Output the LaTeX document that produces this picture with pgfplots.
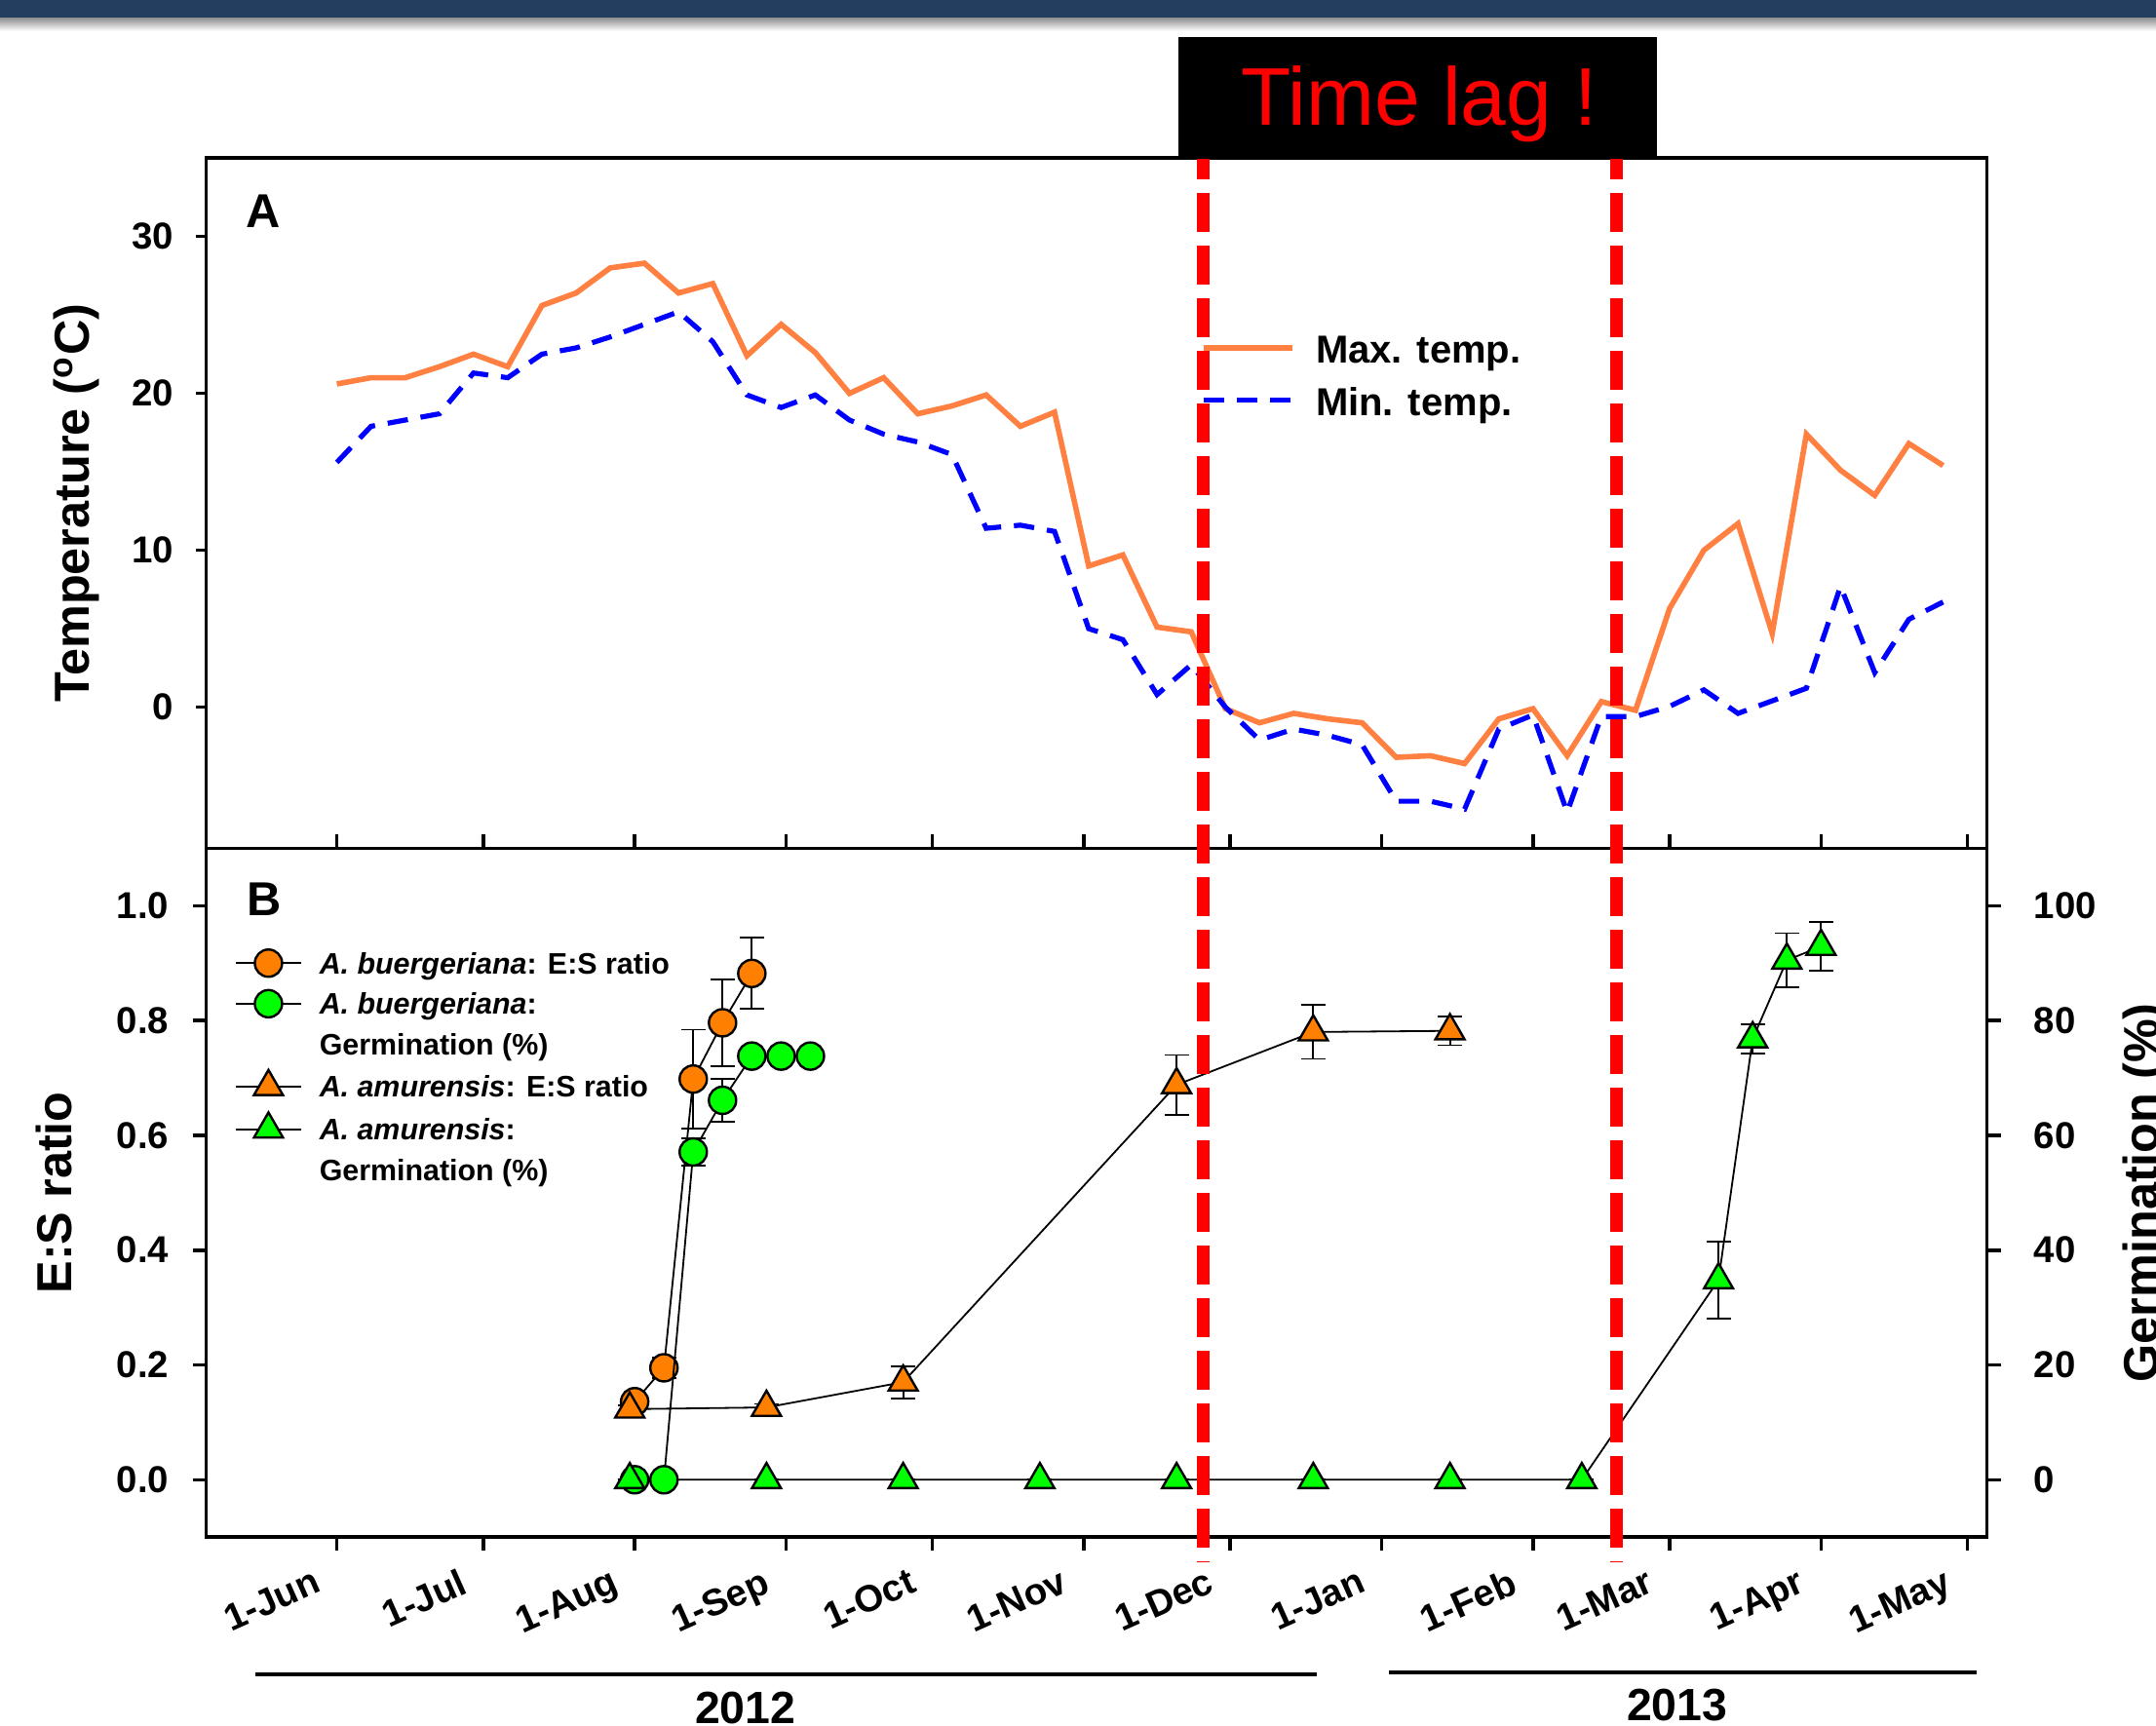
\documentclass[border=0pt]{standalone}
\usepackage{fontspec}
\setmainfont{Liberation Sans}
\usepackage{pgfplots}
\usepackage{pgfplotstable}
\pgfplotsset{compat=1.18}

\definecolor{hdr}{HTML}{243E5F}
\definecolor{maxc}{HTML}{FF8040}
\definecolor{minc}{HTML}{0000FF}
\definecolor{mko}{HTML}{FF8000}
\definecolor{mkg}{HTML}{00FF00}

\newcommand{\tl}{\bfseries\fontsize{9.6}{11}\selectfont}
\newcommand{\al}{\bfseries\fontsize{12.6}{14}\selectfont}

\pgfplotstableread{
d tmax tmin
0 20.6 15.6
7 21.0 17.9
14 21.0 18.3
21 21.7 18.7
28 22.5 21.3
35 21.7 21.0
42 25.6 22.5
49 26.4 22.9
56 28.0 23.6
63 28.3 24.4
70 26.4 25.2
77 27.0 23.3
84 22.4 19.9
91 24.4 19.1
98 22.6 19.9
105 20.0 18.3
112 21.0 17.4
119 18.7 16.9
126 19.2 16.1
133 19.9 11.4
140 17.9 11.6
147 18.8 11.2
154 9.0 5.0
161 9.7 4.3
168 5.1 0.8
175 4.8 2.7
182 -0.1 0.0
189 -1.0 -2.1
196 -0.4 -1.4
203 -0.75 -1.8
210 -1.0 -2.4
217 -3.2 -6.0
224 -3.1 -6.0
231 -3.6 -6.5
238 -0.75 -1.4
245 -0.1 -0.5
252 -3.1 -6.7
259 0.35 -0.6
266 -0.2 -0.6
273 6.3 0.05
280 10.0 1.1
287 11.7 -0.4
294 4.7 0.4
301 17.4 1.2
308 15.1 7.7
315 13.5 2.2
322 16.8 5.6
329 15.4 6.7
}\tempdata

\pgfplotstableread{
d v e
61 0.136 0.010
67 0.195 0.018
73 0.698 0.086
79 0.796 0.076
85 0.882 0.062
}\bES

\pgfplotstableread{
d v e
61 0 0
67 0 0
73 57.1 2.4
79 66.1 3.8
85 73.8 0
91 73.8 0
97 73.8 0
}\bGm

\pgfplotstableread{
d v e
60 0.123 0.006
88 0.126 0.006
116 0.170 0.028
172 0.688 0.052
200 0.780 0.047
228 0.782 0.025
}\aES

\pgfplotstableread{
d v e
60 0 0
88 0 0
116 0 0
144 0 0
172 0 0
200 0 0
228 0 0
255 0 0
283 34.8 6.7
290 76.8 2.6
297 90.5 4.7
304 92.9 4.2
}\aGm

\pgfplotsset{
  ebar/.style={
    error bars/y dir=both, error bars/y explicit,
    error bars/error bar style={line width=0.45pt, black, solid},
    error bars/error mark=-,
    error bars/error mark options={rotate=90, black, line width=0.45pt, mark size=3.1pt, solid}},
  sercirc/.style={black, line width=0.45pt, mark=*, mark size=3.5pt,
    mark options={fill=#1, draw=black, line width=0.6pt, solid}},
  sertri/.style={black, line width=0.45pt, mark=triangle*, mark size=4.3pt,
    mark options={fill=#1, draw=black, line width=0.6pt, solid}},
}

\begin{document}
\begin{tikzpicture}
% header band
\fill[hdr] (0pt,437.75pt) rectangle (553pt,442.5pt);
\shade[top color={rgb,255:red,150;green,150;blue,150}, bottom color=white] (0pt,434.5pt) rectangle (553pt,437.75pt);

% ---------------- Panel A
\begin{axis}[
  at={(52.875pt,224.9pt)}, anchor=south west,
  scale only axis, width=456.75pt, height=177.05pt,
  xmin=-26.77, xmax=337.98, ymin=-9, ymax=35,
  xtick=\empty,
  ytick={0,10,20,30}, ytick pos=left,
  tick align=outside, major tick length=2.7pt,
  tick style={line width=0.9pt, black},
  axis line style={line width=0.9pt},
  /pgf/number format/assume math mode=true,
  yticklabel style={font=\tl, anchor=east, inner sep=0pt, xshift=-5.4pt},
  ylabel={Temperature (\textsuperscript{o}C)},
  ylabel style={font=\al, at={(axis description cs:-0.06568,0.5)}, anchor=base},
  legend cell align=left,
  legend style={at={(0.5584,0.6872)}, anchor=west, draw=none, fill=none,
    inner sep=0pt, outer sep=0pt, column sep=5.3pt, row sep=3.5pt,
    font=\bfseries\fontsize{10}{12}\selectfont,
    nodes={inner sep=0pt, text height=9pt, text depth=1pt}},
  legend image code/.code={\draw[#1] (0pt,0pt) -- (22.9pt,0pt);},
]
\addplot[maxc, line width=1.4pt] table[x=d, y=tmax] {\tempdata};
\addlegendentry{Max. temp.}
\addplot[minc, line width=1.3pt, dash pattern=on 5.25pt off 3.3pt] table[x=d, y=tmin] {\tempdata};
\addlegendentry{Min. temp.}
\end{axis}

% ---------------- Panel B, left axis (E:S ratio)
\begin{axis}[
  at={(52.875pt,48.2pt)}, anchor=south west,
  scale only axis, width=456.75pt, height=176.7pt,
  xmin=-26.77, xmax=337.98, ymin=-0.1, ymax=1.1,
  xtick={0,30,61,92,122,153,183,214,245,273,304,334},
  xticklabels={1-Jun,1-Jul,1-Aug,1-Sep,1-Oct,1-Nov,1-Dec,1-Jan,1-Feb,1-Mar,1-Apr,1-May},
  xtick pos=both, xticklabel pos=lower,
  ytick={0,0.2,0.4,0.6,0.8,1}, yticklabels={0.0,0.2,0.4,0.6,0.8,1.0},
  ytick pos=left,
  tick align=outside, major tick length=3.5pt,
  tick style={line width=0.9pt, black},
  axis line style={line width=0.9pt},
  /pgf/number format/assume math mode=true,
  yticklabel style={font=\tl, anchor=east, inner sep=0pt, xshift=-5.9pt},
  xticklabel style={font=\tl, xshift=-6.3pt, yshift=-4pt, rotate=24, anchor=north east, inner sep=0pt},
  ylabel={E:S ratio},
  ylabel style={font=\al, at={(axis description cs:-0.07565,0.5)}, anchor=base},
]
\addplot[sercirc=mko, ebar] table[x=d, y=v, y error=e] {\bES};
\addplot[sertri=mko, ebar] table[x=d, y=v, y error=e] {\aES};
\end{axis}

% ---------------- Panel B, right axis (Germination)
\begin{axis}[
  at={(52.875pt,48.2pt)}, anchor=south west,
  scale only axis, width=456.75pt, height=176.7pt,
  xmin=-26.77, xmax=337.98, ymin=-10, ymax=110,
  xtick=\empty,
  ytick={0,20,40,60,80,100}, ytick pos=right, yticklabel pos=right,
  tick align=outside, major tick length=3.5pt,
  tick style={line width=0.9pt, black},
  axis line style={line width=0.9pt},
  /pgf/number format/assume math mode=true,
  yticklabel style={font=\tl, anchor=west, inner sep=0pt, xshift=8.4pt},
  ylabel={Germination (\%)},
  ylabel style={font=\al, at={(axis description cs:1.0758,0.5)}, anchor=north, inner sep=0pt},
  legend cell align=left,
  legend style={at={(0.016,0.6833)}, anchor=west, draw=none, fill=none,
    inner sep=0pt, outer sep=0pt, column sep=4.4pt, row sep=2.8pt,
    font=\bfseries\fontsize{7.6}{9}\selectfont,
    nodes={inner sep=0pt, text height=6.5pt, text depth=1.1pt}},
  legend image code/.code={\draw[mark repeat=2, mark phase=2, #1] plot coordinates {(0pt,0pt) (8.45pt,0pt) (16.9pt,0pt)};},
]
\addlegendimage{sercirc=mko}
\addlegendentry{\textit{A. buergeriana}: E:S ratio}
\addlegendimage{sercirc=mkg}
\addlegendentry{\textit{A. buergeriana}:}
\addlegendimage{empty legend}
\addlegendentry{Germination (\%)}
\addlegendimage{sertri=mko}
\addlegendentry{\textit{A. amurensis}: E:S ratio}
\addlegendimage{sertri=mkg}
\addlegendentry{\textit{A. amurensis}:}
\addlegendimage{empty legend}
\addlegendentry{Germination (\%)}
\addplot[sercirc=mkg, ebar, forget plot] table[x=d, y=v, y error=e] {\bGm};
\addplot[sertri=mkg, ebar, forget plot] table[x=d, y=v, y error=e] {\aGm};
\end{axis}

% panel letters
\node[anchor=north west, inner sep=0pt, font=\bfseries\fontsize{12.2}{14}\selectfont] at (62.9pt,392.75pt) {A};
\node[anchor=north west, inner sep=0pt, font=\bfseries\fontsize{12.2}{14}\selectfont] at (63.25pt,216.25pt) {B};

% red dashed time-lag lines
\draw[red, line width=3.3pt, dash pattern=on 10pt off 3.5pt, dash phase=4.4pt] (308.7pt,402pt) -- (308.7pt,41.75pt);
\draw[red, line width=3.3pt, dash pattern=on 10pt off 3.5pt, dash phase=4.4pt] (414.7pt,402pt) -- (414.7pt,41.75pt);

% time lag box
\fill[black] (302.25pt,433pt) rectangle (425pt,401.75pt);
\node[anchor=base, inner sep=0pt, text=red, font=\fontsize{21}{24}\selectfont] at (364pt,410.4pt) {Time lag !};

% year annotations
\draw[line width=1.2pt] (65.4pt,13pt) -- (337.75pt,13pt);
\draw[line width=1.2pt] (356.25pt,13.5pt) -- (507pt,13.5pt);
\node[anchor=base, inner sep=0pt, font=\bfseries\fontsize{11.6}{13}\selectfont] at (191.15pt,0.5pt) {2012};
\node[anchor=base, inner sep=0pt, font=\bfseries\fontsize{11.6}{13}\selectfont] at (430.15pt,1.25pt) {2013};

\pgfresetboundingbox
\useasboundingbox (0pt,0pt) rectangle (553pt,442.5pt);
\end{tikzpicture}
\end{document}
